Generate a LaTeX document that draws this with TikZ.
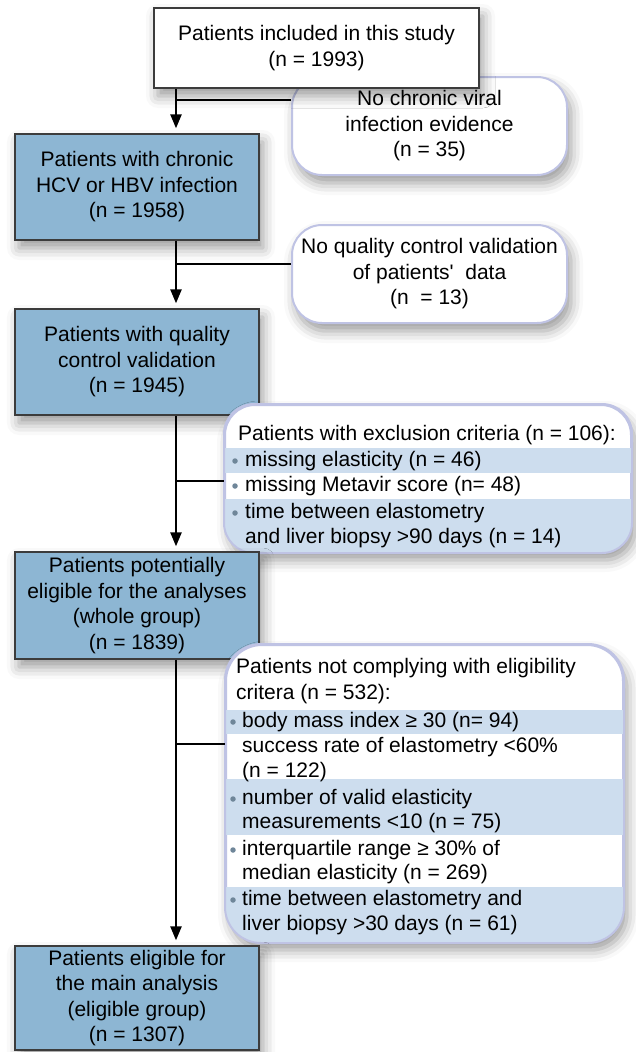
\documentclass[tikz,border=0pt]{standalone}
\usepackage{fontspec}
\setmainfont{Liberation Sans}
\usetikzlibrary{arrows.meta}
\usetikzlibrary{shadows.blur}
\definecolor{boxblue}{HTML}{8DB6D3}
\definecolor{boxedge}{HTML}{3C3C3C}
\definecolor{bandblue}{HTML}{CDDDEE}
\definecolor{excledge}{HTML}{BFC3E4}
\definecolor{dotgray}{HTML}{6F8699}

\begin{document}
\begin{tikzpicture}[x=1pt,y=-1pt,
    font=\fontsize{21}{25.5}\selectfont,
    softshadow/.style={blur shadow={shadow xshift=4pt,shadow yshift=-8pt,shadow blur radius=12pt,shadow opacity=40}},
    stage/.style={draw=boxedge,line width=1.3pt,fill=boxblue,align=center,inner sep=0pt,
        minimum width=244pt,softshadow},
    first/.style={stage,fill=white,minimum width=325pt},
    excl/.style={draw=excledge,line width=2pt,fill=white,rounded corners=30pt,align=center,
        inner sep=0pt,softshadow},
    flow/.style={line width=2.4pt,-{Triangle[length=14pt,width=11pt]},shorten >=5pt},
    branch/.style={line width=2.4pt},
    band/.style={fill=bandblue},
    item/.style={anchor=west,inner sep=0pt},
    dot/.style={circle,fill=dotgray,inner sep=0pt,minimum size=5.5pt},
]
\useasboundingbox (0,0) rectangle (635,1052);

% Ausschlusskasten 1 und Start
\node[excl,minimum width=275pt,minimum height=98pt] (r1) at (429.5,126)
    {No chronic viral\\infection evidence\\(n = 35)};
\node[first,minimum height=80pt] (b1) at (316.5,48)
    {Patients included in this study\\(n = 1993)};

% Hauptkaesten
\node[stage,minimum height=106pt] (b2) at (137,187)
    {Patients with chronic\\HCV or HBV infection\\(n = 1958)};
\node[excl,minimum width=275pt,minimum height=98pt] (r2) at (429.5,274)
    {No quality control validation\\of patients\textquotesingle~ data\\(n~ = 13)};
\node[stage,minimum height=106pt] (b3) at (137,362)
    {Patients with quality\\control validation\\(n = 1945)};

% Ausschlusskasten 3 mit Zeilen
\node[excl,minimum width=406pt,minimum height=147pt] (r3) at (428,478.5) {};
\begin{scope}
    \clip[rounded corners=30pt] (r3.north west) rectangle (r3.south east);
    \fill[band] (r3.west |- 0,448) rectangle (r3.east |- 0,473);
    \fill[band] (r3.west |- 0,499) rectangle (r3.east |- 0,560);
\end{scope}
\draw[excledge,line width=2pt,rounded corners=30pt] (r3.north west) rectangle (r3.south east);
\node[item] (r3t) at (238,435) {Patients with exclusion criteria (n = 106):};
\node[dot] (r3d1) at (235,461) {};
\node[item] (r3a) at (245,461) {missing elasticity (n = 46)};
\node[dot] (r3d2) at (235,486) {};
\node[item] (r3b) at (245,486) {missing Metavir score (n= 48)};
\node[dot] (r3d3) at (235,513) {};
\node[item] (r3c) at (245,513) {time between elastometry};
\node[item] (r3c2) at (245,538) {and liver biopsy >90 days (n = 14)};

\node[stage,minimum height=107pt] (b4) at (137,605.5)
    {Patients potentially\\eligible for the analyses\\(whole group)\\(n = 1839)};

% Ausschlusskasten 4 mit Zeilen
\node[excl,minimum width=397pt,minimum height=297pt,rounded corners=36pt] (r4) at (424.5,793.5) {};
\begin{scope}
    \clip[rounded corners=36pt] (r4.north west) rectangle (r4.south east);
    \fill[band] (r4.west |- 0,710) rectangle (r4.east |- 0,734);
    \fill[band] (r4.west |- 0,779) rectangle (r4.east |- 0,835);
    \fill[band] (r4.west |- 0,887) rectangle (r4.east |- 0,950);
\end{scope}
\draw[excledge,line width=2pt,rounded corners=36pt] (r4.north west) rectangle (r4.south east);
\node[item] (r4t) at (236,668) {Patients not complying with eligibility};
\node[item] (r4t2) at (236,694) {critera (n = 532):};
\node[dot] (r4d1) at (233,722) {};
\node[item] (r4a) at (242,722) {body mass index ≥ 30 (n= 94)};
\node[item] (r4b) at (242,747) {success rate of elastometry <60\%};
\node[item] (r4b2) at (242,772) {(n = 122)};
\node[dot] (r4d2) at (233,799) {};
\node[item] (r4c) at (242,799) {number of valid elasticity};
\node[item] (r4c2) at (242,823) {measurements <10 (n = 75)};
\node[dot] (r4d3) at (233,850) {};
\node[item] (r4d) at (242,850) {interquartile range ≥ 30\% of};
\node[item] (r4d2) at (242,874) {median elasticity (n = 269)};
\node[dot] (r4d4) at (233,900) {};
\node[item] (r4e) at (242,900) {time between elastometry and};
\node[item] (r4e2) at (242,925) {liver biopsy >30 days (n = 61)};

\node[stage,minimum height=104pt] (b5) at (137,998)
    {Patients eligible for\\the main analysis\\(eligible group)\\(n = 1307)};

% Verbindungen
\coordinate (spine) at (176,0);
\coordinate (j1) at (176,100);
\coordinate (j2) at (176,264);
\coordinate (j3) at (176,481);
\coordinate (j4) at (176,744);
\draw[flow] (b1.south -| spine) -- (b2.north -| spine);
\draw[flow] (b2.south -| spine) -- (b3.north -| spine);
\draw[flow] (b3.south -| spine) -- (b4.north -| spine);
\draw[flow] (b4.south -| spine) -- (b5.north -| spine);
\draw[branch] (j1) -- (j1 -| r1.west);
\draw[branch] (j2) -- (j2 -| r2.west);
\draw[branch] (j3) -- (j3 -| r3.west);
\draw[branch] (j4) -- (j4 -| r4.west);
\end{tikzpicture}
\end{document}
